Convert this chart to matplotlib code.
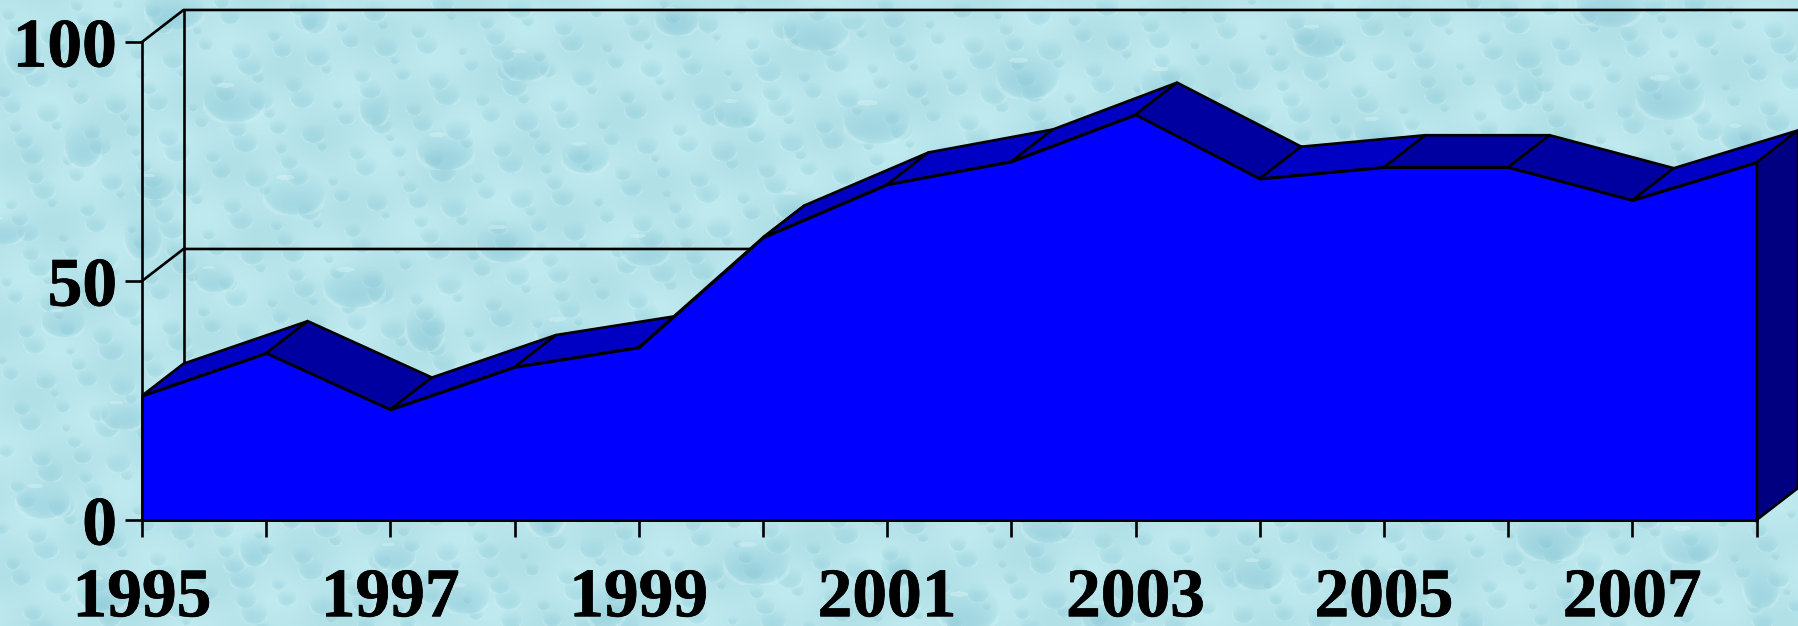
import numpy as np
import matplotlib
matplotlib.use('Agg')
import matplotlib.pyplot as plt
import matplotlib.patheffects as pe

years = [1995, 1996, 1997, 1998, 1999, 2000, 2001, 2002, 2003, 2004, 2005, 2006, 2007, 2008]
values = [26.0, 34.9, 23.1, 32.0, 36.1, 59.1, 70.2, 75.0, 84.8, 71.4, 73.8, 73.8, 66.9, 74.8]
y_ticks = [0, 50, 100]
x_labels = ['1995', '', '1997', '', '1999', '', '2001', '', '2003', '', '2005', '', '2007', '']

# 3d depth of the chart box, in data units
depth_x = 0.3345
depth_y = 6.7

WIDTH, HEIGHT = 1798, 626
LW = 1.9


def add_drop(img, cx, cy, rx, ry, strength, shine):
    x0, x1 = max(int(cx - rx), 0), min(int(cx + rx) + 1, WIDTH)
    y0, y1 = max(int(cy - ry), 0), min(int(cy + ry) + 1, HEIGHT)
    if x0 >= x1 or y0 >= y1:
        return
    yy, xx = np.mgrid[y0:y1, x0:x1]
    u = (xx - cx) / rx
    v = (yy - cy) / ry
    r2 = u ** 2 + v ** 2
    shade = np.clip(1 - r2, 0, 1) ** 0.5 * (0.5 + 0.5 * v)
    shade = np.clip(shade, 0, 1)
    dark = np.array([122, 190, 208.0])
    for c in range(3):
        img[y0:y1, x0:x1, c] += (dark[c] - img[y0:y1, x0:x1, c]) * shade * strength
    # pale rim under the drop and a faint highlight on top
    rim = (r2 > 1) & (r2 < 1.3) & (v > 0)
    img[y0:y1, x0:x1][rim] = img[y0:y1, x0:x1][rim] * 0.7 + np.array([212, 242, 245.0]) * 0.3
    if shine:
        hi = ((u + 0.3) ** 2 / 0.09 + (v + 0.6) ** 2 / 0.012) < 1
        img[y0:y1, x0:x1][hi] = img[y0:y1, x0:x1][hi] * 0.6 + np.array([218, 244, 246.0]) * 0.4


def make_background():
    img = np.zeros((HEIGHT, WIDTH, 3)) + np.array([184, 229, 235.0])
    yy, xx = np.mgrid[0:HEIGHT, 0:WIDTH]
    # soft mottling, then drops on a low-discrepancy layout
    mottle = np.sin(xx / 23.0 + yy / 41.0) * np.sin(yy / 19.0 - xx / 57.0)
    img += mottle[..., None] * np.array([7, 5, 4.0])
    phi_a, phi_b = 0.7548776662, 0.5698402910
    for i in range(1, 1400):
        cx = (i * phi_a % 1) * WIDTH
        cy = (i * phi_b % 1) * HEIGHT
        size = 4 + 8 * ((i * 0.381966) % 1)
        add_drop(img, cx, cy, size * 1.1, size, 0.4, False)
    for i in range(1, 90):
        cx = ((i * phi_b + 0.37) % 1) * WIDTH
        cy = ((i * phi_a + 0.11) % 1) * HEIGHT
        size = 15 + 12 * ((i * 0.618034) % 1)
        stretch = 0.75 if i % 3 == 0 else 1.3
        add_drop(img, cx, cy, size * stretch, size, 0.55, i % 3 != 0)
    return np.clip(img, 0, 255).astype(np.uint8)


def draw_box(ax):
    top = y_ticks[-1]
    ax.plot([years[0], years[0] + depth_x, years[-1] + depth_x],
            [top, top + depth_y, top + depth_y], color='black', lw=LW, clip_on=False, zorder=2)
    ax.plot([years[0], years[0] + depth_x, years[-1] + depth_x],
            [50, 50 + depth_y, 50 + depth_y], color='black', lw=LW, clip_on=False, zorder=2)
    ax.plot([years[0] + depth_x, years[0] + depth_x], [depth_y, top + depth_y],
            color='black', lw=LW, clip_on=False, zorder=2)


def draw_area(ax):
    for i in range(len(years) - 1):
        x0, x1 = years[i], years[i + 1]
        v0, v1 = values[i], values[i + 1]
        color = '#0000c4' if v1 > v0 else '#0000a0'
        ax.fill([x0, x1, x1 + depth_x, x0 + depth_x],
                [v0, v1, v1 + depth_y, v0 + depth_y],
                facecolor=color, edgecolor='black', lw=LW, clip_on=False, zorder=3)
    ax.fill([years[-1], years[-1] + depth_x, years[-1] + depth_x, years[-1]],
            [0, depth_y, values[-1] + depth_y, values[-1]],
            facecolor='#000080', edgecolor='black', lw=LW, clip_on=False, zorder=3)
    ax.fill_between(years, values, 0, facecolor='#0000ff', edgecolor='black', lw=LW,
                    clip_on=False, zorder=4)


if __name__ == '__main__':
    plt.rcParams['font.family'] = ['Liberation Serif', 'DejaVu Serif']
    fig = plt.figure(figsize=(WIDTH / 100, HEIGHT / 100), dpi=100)

    bg = fig.add_axes([0, 0, 1, 1], zorder=0)
    bg.imshow(make_background(), aspect='auto', interpolation='bilinear')
    bg.axis('off')

    ax = fig.add_axes([142 / WIDTH, (HEIGHT - 520) / HEIGHT, (1756.5 - 142) / WIDTH, 478 / HEIGHT], zorder=1)
    ax.patch.set_visible(False)
    ax.set_xlim(years[0], years[-1])
    ax.set_ylim(0, 100)

    draw_box(ax)
    draw_area(ax)

    for side in ['top', 'right']:
        ax.spines[side].set_visible(False)
    for side in ['left', 'bottom']:
        ax.spines[side].set_linewidth(LW)
        ax.spines[side].set_zorder(5)
    ax.set_xticks(years)
    ax.set_xticklabels(x_labels)
    ax.set_yticks(y_ticks)
    ax.tick_params(axis='both', length=12, width=LW, labelsize=50)
    ax.tick_params(axis='x', pad=22)
    ax.tick_params(axis='y', pad=6)
    for label in ax.get_xticklabels() + ax.get_yticklabels():
        label.set_fontweight('bold')
        label.set_path_effects([pe.withStroke(linewidth=0.5, foreground='black')])

    fig.savefig('out.png', dpi=100)
